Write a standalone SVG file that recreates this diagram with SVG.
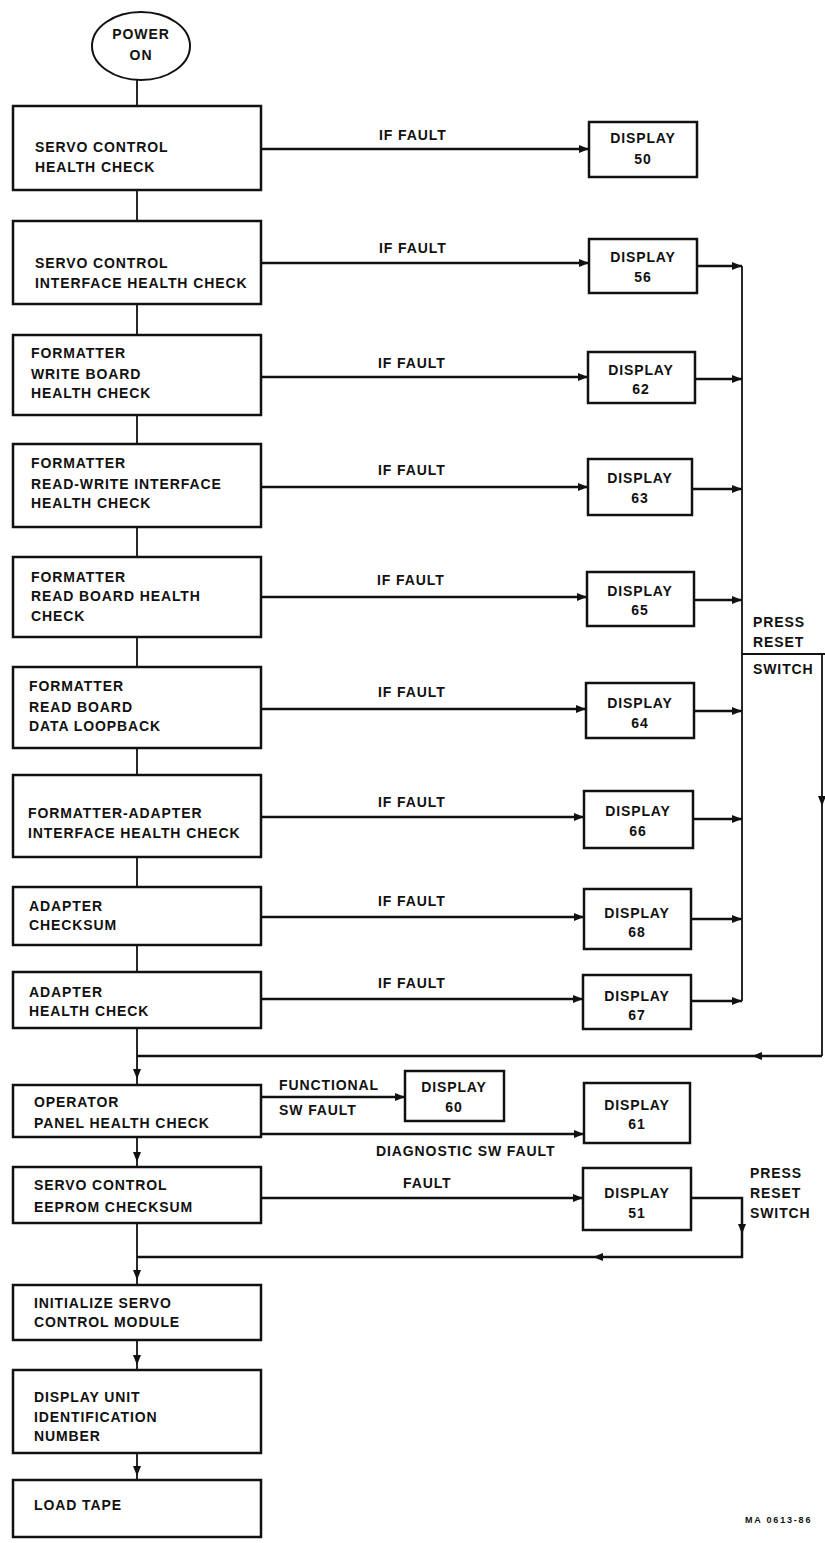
<svg xmlns="http://www.w3.org/2000/svg" width="825" height="1543" viewBox="0 0 825 1543">
<style>
.t{font-family:"Liberation Sans",Arial,sans-serif;font-weight:bold;font-size:14px;letter-spacing:0.9px;fill:#111}
.c{text-anchor:middle}
.box{fill:#fff;stroke:#111;stroke-width:2.5}
.ln{fill:none;stroke:#111;stroke-width:2.5}
.v{fill:none;stroke:#111;stroke-width:1.8}
.a{marker-end:url(#ah)}
</style>
<defs>
<marker id="ah" markerUnits="userSpaceOnUse" markerWidth="10" markerHeight="8" refX="10" refY="4" orient="auto">
<path d="M0,0 L10,4 L0,8 z" fill="#111"/>
</marker>
</defs>
<rect width="825" height="1543" fill="#fff"/>

<g id="connectors">
<path class="v" d="M137,80 L137,106 M137,190 L137,221 M137,304 L137,335 M137,415 L137,444 M137,527 L137,557 M137,637 L137,667 M137,748 L137,775 M137,857 L137,887 M137,945 L137,972"/>
<path class="v a" d="M137,1028 L137,1079"/><path class="v" d="M137,1079 L137,1085"/>
<path class="v a" d="M137,1137 L137,1162"/><path class="v" d="M137,1162 L137,1167"/>
<path class="v a" d="M137,1223 L137,1280"/><path class="v" d="M137,1280 L137,1285"/>
<path class="v a" d="M137,1340 L137,1365"/><path class="v" d="M137,1365 L137,1370"/>
<path class="v a" d="M137,1453 L137,1476"/><path class="v" d="M137,1476 L137,1480"/>

<path class="ln a" d="M261,149 L589,149"/>
<path class="ln a" d="M261,263 L589,263"/>
<path class="ln a" d="M261,377 L588,377"/>
<path class="ln a" d="M261,487 L588,487"/>
<path class="ln a" d="M261,597 L587,597"/>
<path class="ln a" d="M261,709 L586,709"/>
<path class="ln a" d="M261,817 L584,817"/>
<path class="ln a" d="M261,917 L584,917"/>
<path class="ln a" d="M261,999 L583,999"/>

<path class="ln a" d="M697,266 L742,266"/>
<path class="ln a" d="M695,379 L742,379"/>
<path class="ln a" d="M692,489 L742,489"/>
<path class="ln a" d="M694,600 L742,600"/>
<path class="ln a" d="M694,711 L742,711"/>
<path class="ln a" d="M693,819 L742,819"/>
<path class="ln a" d="M691,919 L742,919"/>
<path class="ln a" d="M691,1001 L742,1001"/>
<path class="v" d="M742,266 L742,1001"/>
<path class="v" d="M742,654 L825,654"/>
<path class="v a" d="M822,654 L822,806"/><path class="v" d="M822,806 L822,1056"/>
<path class="ln a" d="M822,1056 L752,1056"/><path class="ln" d="M752,1056 L137,1056"/>

<path class="ln a" d="M261,1097 L405,1097"/>
<path class="ln a" d="M261,1134 L584,1134"/>
<path class="ln a" d="M261,1198 L583,1198"/>
<path class="ln a" d="M691,1198 L742,1198 L742,1234"/>
<path class="ln a" d="M742,1234 L742,1257 L593,1257"/><path class="ln" d="M593,1257 L137,1257"/>
</g>

<g id="labels">
<text class="t" x="379" y="140">IF  FAULT</text>
<text class="t" x="379" y="253">IF  FAULT</text>
<text class="t" x="378" y="368">IF  FAULT</text>
<text class="t" x="378" y="475">IF  FAULT</text>
<text class="t" x="377" y="585">IF  FAULT</text>
<text class="t" x="378" y="697">IF  FAULT</text>
<text class="t" x="378" y="807">IF  FAULT</text>
<text class="t" x="378" y="906">IF  FAULT</text>
<text class="t" x="378" y="988">IF  FAULT</text>
<text class="t" x="753" y="627">PRESS</text>
<text class="t" x="753" y="647">RESET</text>
<text class="t" x="753" y="674">SWITCH</text>
<text class="t" x="279" y="1090">FUNCTIONAL</text>
<text class="t" x="279" y="1115">SW  FAULT</text>
<text class="t" x="376" y="1156">DIAGNOSTIC  SW  FAULT</text>
<text class="t" x="403" y="1188">FAULT</text>
<text class="t" x="750" y="1178">PRESS</text>
<text class="t" x="750" y="1198">RESET</text>
<text class="t" x="750" y="1218">SWITCH</text>
<text class="t" x="745" y="1523" style="font-size:9px;letter-spacing:1.8px">MA  0613-86</text>
</g>

<g id="power-on"><ellipse cx="141" cy="46" rx="49" ry="34" fill="#fff" stroke="#111" stroke-width="2"/>
<text class="t c" x="141" y="39">POWER</text><text class="t c" x="141" y="60">ON</text></g>

<g id="servo-health"><rect class="box" x="13" y="106" width="248" height="84"/>
<text class="t" x="35" y="152">SERVO CONTROL</text><text class="t" x="35" y="172">HEALTH CHECK</text></g>
<g id="servo-if"><rect class="box" x="13" y="221" width="248" height="83"/>
<text class="t" x="35" y="268">SERVO CONTROL</text><text class="t" x="35" y="288">INTERFACE HEALTH CHECK</text></g>
<g id="fmt-write"><rect class="box" x="13" y="335" width="248" height="80"/>
<text class="t" x="31" y="358">FORMATTER</text><text class="t" x="31" y="379">WRITE BOARD</text><text class="t" x="31" y="398">HEALTH CHECK</text></g>
<g id="fmt-rw"><rect class="box" x="13" y="444" width="248" height="83"/>
<text class="t" x="31" y="468">FORMATTER</text><text class="t" x="31" y="489">READ-WRITE INTERFACE</text><text class="t" x="31" y="508">HEALTH CHECK</text></g>
<g id="fmt-read"><rect class="box" x="13" y="557" width="248" height="80"/>
<text class="t" x="31" y="582">FORMATTER</text><text class="t" x="31" y="601">READ BOARD HEALTH</text><text class="t" x="31" y="621">CHECK</text></g>
<g id="fmt-loop"><rect class="box" x="13" y="667" width="248" height="81"/>
<text class="t" x="29" y="691">FORMATTER</text><text class="t" x="29" y="712">READ BOARD</text><text class="t" x="29" y="731">DATA LOOPBACK</text></g>
<g id="fmt-adapter"><rect class="box" x="13" y="775" width="248" height="82"/>
<text class="t" x="28" y="818">FORMATTER-ADAPTER</text><text class="t" x="28" y="838">INTERFACE HEALTH CHECK</text></g>
<g id="adapter-sum"><rect class="box" x="13" y="887" width="248" height="58"/>
<text class="t" x="29" y="911">ADAPTER</text><text class="t" x="29" y="930">CHECKSUM</text></g>
<g id="adapter-health"><rect class="box" x="13" y="972" width="248" height="56"/>
<text class="t" x="29" y="997">ADAPTER</text><text class="t" x="29" y="1016">HEALTH CHECK</text></g>
<g id="operator"><rect class="box" x="13" y="1085" width="248" height="52"/>
<text class="t" x="34" y="1107">OPERATOR</text><text class="t" x="34" y="1128">PANEL HEALTH CHECK</text></g>
<g id="eeprom"><rect class="box" x="13" y="1167" width="248" height="56"/>
<text class="t" x="34" y="1190">SERVO CONTROL</text><text class="t" x="34" y="1212">EEPROM CHECKSUM</text></g>
<g id="init"><rect class="box" x="13" y="1285" width="248" height="55"/>
<text class="t" x="34" y="1308">INITIALIZE SERVO</text><text class="t" x="34" y="1327">CONTROL MODULE</text></g>
<g id="unit-id"><rect class="box" x="13" y="1370" width="248" height="83"/>
<text class="t" x="34" y="1402">DISPLAY UNIT</text><text class="t" x="34" y="1422">IDENTIFICATION</text><text class="t" x="34" y="1441">NUMBER</text></g>
<g id="load-tape"><rect class="box" x="13" y="1480" width="248" height="57"/>
<text class="t" x="34" y="1510">LOAD  TAPE</text></g>

<g id="d50"><rect class="box" x="589" y="122" width="108" height="55"/><text class="t c" x="643" y="143">DISPLAY</text><text class="t c" x="643" y="164">50</text></g>
<g id="d56"><rect class="box" x="589" y="239" width="108" height="54"/><text class="t c" x="643" y="262">DISPLAY</text><text class="t c" x="643" y="282">56</text></g>
<g id="d62"><rect class="box" x="588" y="352" width="107" height="51"/><text class="t c" x="641" y="375">DISPLAY</text><text class="t c" x="641" y="394">62</text></g>
<g id="d63"><rect class="box" x="588" y="459" width="104" height="56"/><text class="t c" x="640" y="483">DISPLAY</text><text class="t c" x="640" y="503">63</text></g>
<g id="d65"><rect class="box" x="587" y="572" width="107" height="54"/><text class="t c" x="640" y="596">DISPLAY</text><text class="t c" x="640" y="615">65</text></g>
<g id="d64"><rect class="box" x="586" y="683" width="108" height="55"/><text class="t c" x="640" y="708">DISPLAY</text><text class="t c" x="640" y="728">64</text></g>
<g id="d66"><rect class="box" x="584" y="791" width="109" height="57"/><text class="t c" x="638" y="816">DISPLAY</text><text class="t c" x="638" y="836">66</text></g>
<g id="d68"><rect class="box" x="584" y="889" width="107" height="60"/><text class="t c" x="637" y="918">DISPLAY</text><text class="t c" x="637" y="937">68</text></g>
<g id="d67"><rect class="box" x="583" y="975" width="108" height="54"/><text class="t c" x="637" y="1001">DISPLAY</text><text class="t c" x="637" y="1020">67</text></g>
<g id="d60"><rect class="box" x="405" y="1071" width="99" height="50"/><text class="t c" x="454" y="1092">DISPLAY</text><text class="t c" x="454" y="1112">60</text></g>
<g id="d61"><rect class="box" x="584" y="1083" width="106" height="60"/><text class="t c" x="637" y="1110">DISPLAY</text><text class="t c" x="637" y="1129">61</text></g>
<g id="d51"><rect class="box" x="583" y="1168" width="108" height="62"/><text class="t c" x="637" y="1198">DISPLAY</text><text class="t c" x="637" y="1218">51</text></g>
</svg>
